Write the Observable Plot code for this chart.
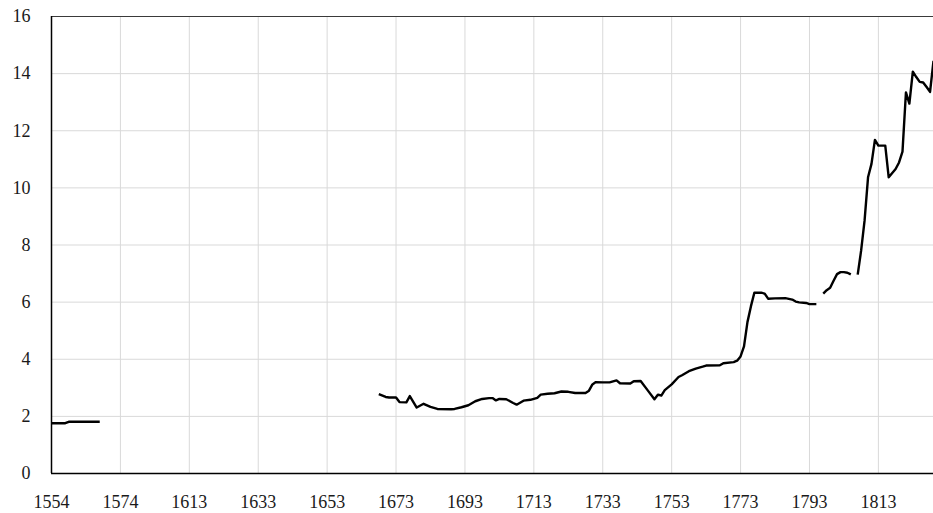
<!DOCTYPE html>
<html>
<head>
<meta charset="utf-8">
<script src="https://cdn.jsdelivr.net/npm/d3@7"></script>
<script src="https://cdn.jsdelivr.net/npm/@observablehq/plot@0.6"></script>
<style>
  html, body { margin: 0; padding: 0; background: #fff; }
  #chart { width: 933px; height: 513px; }
  #chart svg, #chart svg text {
    font-family: "Liberation Serif", "DejaVu Serif", serif !important;
    font-size: 18px !important;
  }
</style>
</head>
<body>
<div id="chart"></div>
<script>
// Category axis (one slot per year present in the source table)
const categories = [...d3.range(1554, 1575), ...d3.range(1594, 1830)];
const xTickLabels = [1554, 1574, 1613, 1633, 1653, 1673, 1693, 1713, 1733, 1753, 1773, 1793, 1813];
const yTickLabels = [0, 2, 4, 6, 8, 10, 12, 14, 16];

// Readings of the series (null = break in the line)
const readYears = [
  1554, 1558, 1559, 1568,
  1569,
  1668, 1670, 1671, 1673, 1674, 1676, 1677, 1679, 1681, 1683, 1685, 1689, 1690, 1692, 1694,
  1696, 1698, 1700, 1701, 1702, 1703, 1705, 1707, 1708, 1710, 1712, 1714, 1715, 1717, 1719,
  1721, 1723, 1725, 1728, 1729, 1730, 1731, 1733, 1735, 1737, 1738, 1741, 1742, 1744, 1746,
  1748, 1749, 1750, 1751, 1753, 1755, 1756, 1758, 1760, 1762, 1763, 1767, 1768, 1771, 1772,
  1773, 1774, 1775, 1776, 1777, 1779, 1780, 1781, 1783, 1786, 1788, 1789, 1790, 1792, 1793, 1795,
  1796,
  1797, 1798, 1799, 1800, 1801, 1802, 1803, 1804, 1805,
  1806,
  1807, 1808, 1809, 1810, 1811, 1812, 1813, 1815, 1816, 1818, 1819, 1820, 1821, 1822, 1823,
  1824, 1825, 1826, 1827, 1828, 1829
];
const readValues = [
  1.76, 1.76, 1.81, 1.81,
  null,
  2.78, 2.68, 2.66, 2.66, 2.50, 2.49, 2.71, 2.31, 2.44, 2.33, 2.26, 2.25, 2.26, 2.32, 2.39,
  2.53, 2.61, 2.64, 2.64, 2.56, 2.61, 2.60, 2.47, 2.41, 2.55, 2.58, 2.65, 2.76, 2.79, 2.81,
  2.87, 2.86, 2.82, 2.82, 2.90, 3.12, 3.20, 3.19, 3.19, 3.26, 3.16, 3.15, 3.23, 3.24, 2.92,
  2.60, 2.76, 2.73, 2.92, 3.12, 3.38, 3.44, 3.58, 3.67, 3.74, 3.78, 3.79, 3.86, 3.90, 3.95,
  4.10, 4.45, 5.30, 5.85, 6.33, 6.33, 6.30, 6.12, 6.13, 6.14, 6.09, 6.02, 5.99, 5.97, 5.93, 5.93,
  null,
  6.30, 6.42, 6.50, 6.75, 6.98, 7.05, 7.05, 7.03, 6.97,
  null,
  6.96, 7.81, 8.86, 10.37, 10.84, 11.68, 11.48, 11.48, 10.37, 10.66, 10.89, 11.27, 13.34, 12.95, 14.07,
  13.88, 13.71, 13.69, 13.53, 13.36, 14.45
];

const data = readYears.map((year, i) => ({year, value: readValues[i]}));

const chart = Plot.plot({
  width: 933,
  height: 513,
  marginLeft: 51,
  marginRight: 0,
  marginTop: 16,
  marginBottom: 40,
  style: {fontFamily: "'Liberation Serif', 'Times New Roman', serif", fontSize: "18px", background: "#fff", color: "#1a1a1a", overflow: "hidden"},
  x: {type: "point", domain: categories, padding: 0, align: 0},
  y: {domain: [0, 16]},
  marks: [
    Plot.ruleY(yTickLabels.filter(d => d > 0 && d < 16), {y: d => d, stroke: "#d9d9d9", strokeWidth: 1}),
    Plot.ruleX(xTickLabels.slice(1), {x: d => d, stroke: "#d9d9d9", strokeWidth: 1}),
    Plot.ruleY([16], {y: d => d, stroke: "#3a3a3a", strokeWidth: 1}),
    Plot.axisX(xTickLabels, {tickSize: 0, tickPadding: 22, tickFormat: d => String(d), label: null, fill: "#1a1a1a", fontSize: 18}),
    Plot.axisY(yTickLabels, {tickSize: 0, tickPadding: 21, tickFormat: d => String(d), label: null, fill: "#1a1a1a", fontSize: 18}),
    Plot.line(data, {x: "year", y: "value", stroke: "#000", strokeWidth: 2.4, strokeLinejoin: "round", strokeLinecap: "butt"}),
    Plot.ruleY([0], {y: d => d, stroke: "#000", strokeWidth: 1.5}),
    Plot.ruleX([categories[0]], {x: d => d, stroke: "#000", strokeWidth: 1.5})
  ]
});
document.getElementById("chart").appendChild(chart);
</script>
</body>
</html>
